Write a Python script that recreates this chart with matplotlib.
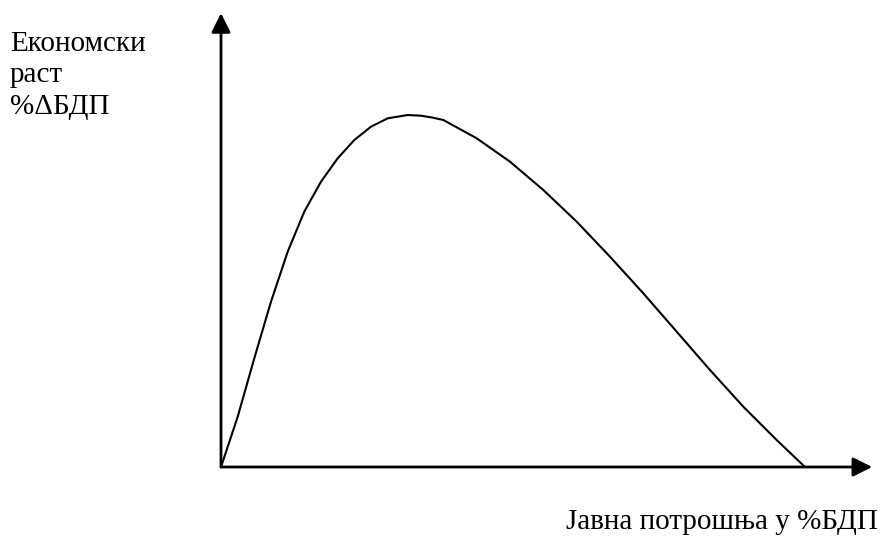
import matplotlib
matplotlib.use("Agg")
import matplotlib.pyplot as plt

# Armey curve: public spending (% GDP) vs economic growth (% change GDP), arbitrary units
spending = [0, 2.86, 5.70, 8.56, 11.42, 14.26, 17.12, 19.98, 22.83, 25.68, 28.54,
            31.97, 34.25, 36.13, 38.07, 43.78, 49.49, 55.19, 60.91, 66.61, 72.31,
            78.03, 83.73, 89.44, 95.15, 100]
growth = [0, 14.33, 30.97, 47.09, 61.34, 72.74, 81.28, 87.95, 93.16, 96.95, 99.34,
          100.28, 100.09, 99.57, 98.86, 93.65, 86.98, 78.92, 69.89, 59.91, 49.49,
          38.55, 27.64, 17.18, 7.69, 0]

x_axis_end = 111.5
y_axis_end = 129.3

y_label = "Економски\nраст\n%ΔБДП"
x_label = "Јавна потрошња у %БДП"

W, H = 883, 536
fig = plt.figure(figsize=(W / 100, H / 100), dpi=100)
ax = fig.add_axes([0, 0, 1, 1])
sx, sy = 5.84, 3.51
ox, oy = 221, 467
ax.set_xlim(-ox / sx, (W - ox) / sx)
ax.set_ylim(-(H - oy) / sy, oy / sy)
ax.axis("off")

arrow = dict(arrowstyle="-|>,head_length=0.58,head_width=0.29", mutation_scale=20,
             lw=2.0, color="black", shrinkA=0, shrinkB=0)
ax.annotate("", xy=(0, y_axis_end), xytext=(0, 0), arrowprops=arrow)
ax.annotate("", xy=(x_axis_end, 0), xytext=(0, 0), arrowprops=arrow)

ax.plot(spending, growth, color="black", lw=1.5, solid_joinstyle="round",
        solid_capstyle="round")

font = dict(family="Liberation Serif", size=21, color="black")
fig.text(10 / W, 1 - 31 / H, y_label, ha="left", va="top", linespacing=1.27, **font)
fig.text(878 / W, 1 - 529 / H, x_label, ha="right", va="baseline", **font)

fig.savefig("out.png", dpi=100, facecolor="white")
